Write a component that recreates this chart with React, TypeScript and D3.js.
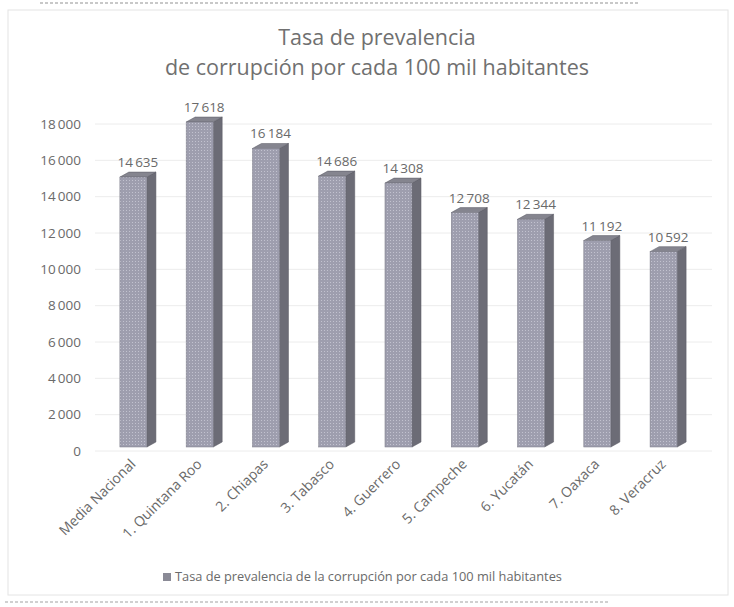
import * as d3 from 'd3';

const categories = [
  'Media Nacional',
  '1. Quintana Roo',
  '2. Chiapas',
  '3. Tabasco',
  '4. Guerrero',
  '5. Campeche',
  '6. Yucatán',
  '7. Oaxaca',
  '8. Veracruz'
];
const values = [14635, 17618, 16184, 14686, 14308, 12708, 12344, 11192, 10592];
const yTicks = [0, 2000, 4000, 6000, 8000, 10000, 12000, 14000, 16000, 18000];
const titleLines = ['Tasa de prevalencia', 'de corrupción por cada 100 mil habitantes'];
const legendLabel = 'Tasa de prevalencia de la corrupción por cada 100 mil habitantes';

const fmt = (v: number) => d3.format(',')(v).replace(/,/g, '\u2009');

export default function App() {
  const width = 734;
  const height = 607;
  const depthX = 9;
  const depthY = 5;
  const font = 'Open Sans, Lato, sans-serif';
  const textColor = '#6a6a6a';

  const x = d3
    .scaleBand<string>()
    .domain(categories)
    .range([100, 697])
    .paddingInner(0.592)
    .paddingOuter(0.3);

  // back wall (gridlines + axis labels)
  const yAxis = d3.scaleLinear().domain([0, 18000]).range([451, 124]);
  // front face of the columns
  const yBar = d3.scaleLinear().domain([0, 18000]).range([447, 115]);

  const bw = x.bandwidth();

  return (
    <svg
      width={width}
      height={height}
      style={{ position: 'absolute', left: 0, top: 0, background: '#fff' }}
    >
      <defs>
        <pattern id="dots" width="3" height="3" patternUnits="userSpaceOnUse">
          <rect width="3" height="3" fill="#9e9eae" />
          <rect width="1" height="1" fill="#c2c2cf" />
        </pattern>
      </defs>

      {/* scanned page remnants */}
      <line x1={40} x2={640} y1={3} y2={3} stroke="#c8c8c8" strokeWidth={2} strokeDasharray="3 2" />
      <line x1={5} x2={610} y1={602} y2={602} stroke="#d0d0d0" strokeWidth={2} strokeDasharray="3 2" />

      {/* chart border */}
      <rect x={8} y={10} width={720} height={585} fill="none" stroke="#e4e4e4" />

      {/* title */}
      {titleLines.map((t, i) => (
        <text
          key={i}
          x={377}
          y={45 + i * 30}
          textAnchor="middle"
          fontFamily={font}
          fontSize={21.5}
          fill="#707070"
        >
          {t}
        </text>
      ))}

      {/* gridlines */}
      {yTicks.map((t) => (
        <line
          key={t}
          x1={95}
          x2={712}
          y1={yAxis(t)}
          y2={yAxis(t)}
          stroke="#ececec"
          strokeWidth={1}
        />
      ))}

      {/* y labels */}
      {yTicks.map((t) => (
        <text
          key={t}
          x={81}
          y={yAxis(t)}
          dy="0.35em"
          textAnchor="end"
          fontFamily={font}
          fontSize={13.5}
          fill={textColor}
        >
          {fmt(t)}
        </text>
      ))}

      {/* columns */}
      {categories.map((c, i) => {
        const x0 = x(c)!;
        const x1 = x0 + bw;
        const top = yBar(values[i]);
        const bottom = yBar(0);
        const topFace = `M${x0},${top} L${x0 + depthX},${top - depthY} L${x1 + depthX},${top - depthY} L${x1},${top} Z`;
        const sideFace = `M${x1},${top} L${x1 + depthX},${top - depthY} L${x1 + depthX},${bottom - depthY} L${x1},${bottom} Z`;
        return (
          <g key={c}>
            <path d={sideFace} fill="#6c6c76" stroke="#585862" strokeWidth={0.5} />
            <path d={topFace} fill="#85858f" stroke="#585862" strokeWidth={0.5} />
            <rect
              x={x0}
              y={top}
              width={bw}
              height={bottom - top}
              fill="url(#dots)"
              stroke="#7a7a86"
              strokeWidth={0.5}
            />
            <text
              x={x0 + bw / 2 + depthX / 2}
              y={top - depthY - 5}
              textAnchor="middle"
              fontFamily={font}
              fontSize={13.5}
              fill={textColor}
            >
              {fmt(values[i])}
            </text>
            <text
              transform={`translate(${x0 + bw / 2 + 3},${465}) rotate(-45)`}
              textAnchor="end"
              fontFamily={font}
              fontSize={14}
              fill={textColor}
            >
              {c}
            </text>
          </g>
        );
      })}

      {/* legend */}
      <rect x={163} y={573} width={8} height={8} fill="#8a8a96" />
      <text x={175} y={581} fontFamily={font} fontSize={12.8} fill={textColor}>
        {legendLabel}
      </text>
    </svg>
  );
}
